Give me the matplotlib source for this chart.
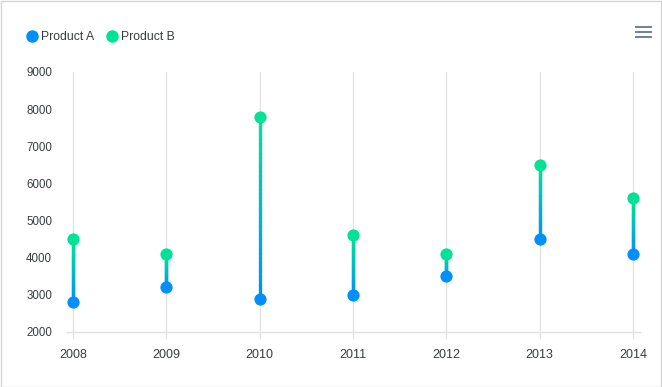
import numpy as np
import matplotlib.pyplot as plt
from matplotlib.collections import LineCollection
from matplotlib.lines import Line2D
from matplotlib.patches import Rectangle
from matplotlib.colors import to_rgb

plt.rcParams['font.family'] = ['Liberation Sans', 'DejaVu Sans']

# === Datos ===
years = [2008, 2009, 2010, 2011, 2012, 2013, 2014]
product_a = [2800, 3200, 2900, 3000, 3500, 4500, 4100]
product_b = [4500, 4100, 7800, 4600, 4100, 6500, 5600]

blue = '#008FFB'
green = '#00E396'
grey_txt = '#373d3f'
grid_c = '#e0e0e0'

W, H = 662, 387
fig = plt.figure(figsize=(W / 100, H / 100), dpi=100)
ax = fig.add_axes([67 / W, (H - 332) / H, (640 - 67) / W, (332 - 72) / H])

# lineas con degradado azul -> verde
c0 = np.array(to_rgb(blue))
c1 = np.array(to_rgb(green))
n = 40
for x, a, b in zip(years, product_a, product_b):
    lo, hi = min(a, b), max(a, b)
    ys = np.linspace(lo, hi, n + 1)
    segs = [[(x, ys[i]), (x, ys[i + 1])] for i in range(n)]
    t = np.linspace(0, 1, n)
    cols = [tuple(c0 * (1 - k) + c1 * k) for k in t]
    lc = LineCollection(segs, colors=cols, linewidths=2.3, capstyle='projecting', zorder=3)
    ax.add_collection(lc)

ax.plot(years, product_a, 'o', color=blue, ms=8.8, mec='none', zorder=4)
ax.plot(years, product_b, 'o', color=green, ms=8.8, mec='none', zorder=4)

ax.set_xlim(2008 - 6 / 93.33, 2014 + 7 / 93.33)
ax.set_ylim(2000, 9000)
ax.set_xticks(years)
ax.set_xticklabels([str(y) for y in years])
ax.set_yticks(range(2000, 9001, 1000))

for x in years:
    ax.axvline(x, color=grid_c, lw=0.9, zorder=1)

for s in ['top', 'right', 'left']:
    ax.spines[s].set_visible(False)
ax.spines['bottom'].set_color(grid_c)
ax.spines['bottom'].set_linewidth(1)
ax.tick_params(axis='x', colors=grid_c, length=5, width=0.9, labelcolor=grey_txt,
               labelsize=9, pad=7.5)
ax.tick_params(axis='y', length=0, labelcolor=grey_txt, labelsize=8.3, pad=10.8)

# leyenda
handles = [Line2D([], [], marker='o', ls='none', color=blue, ms=9, mec='none'),
           Line2D([], [], marker='o', ls='none', color=green, ms=9, mec='none')]
fig.legend(handles, ['Product A', 'Product B'], loc='center left',
           bbox_to_anchor=(27 / W, 1 - 37 / H), ncol=2, frameon=False,
           fontsize=8.8, handlelength=0.75, handletextpad=0.42, columnspacing=1.03,
           labelcolor=grey_txt, borderaxespad=0, borderpad=0)

# icono de menu
for yy in [27, 32, 37]:
    fig.add_artist(Line2D([636 / W, 651 / W], [1 - yy / H] * 2, color='#6E8192', lw=1.4))

# borde
fig.add_artist(Rectangle((0.5 / W, 0.5 / H), (W - 2) / W, (H - 1.5) / H, transform=fig.transFigure,
                         fill=False, ec='#d6d6d6', lw=1))

fig.savefig('out.png', dpi=100)
